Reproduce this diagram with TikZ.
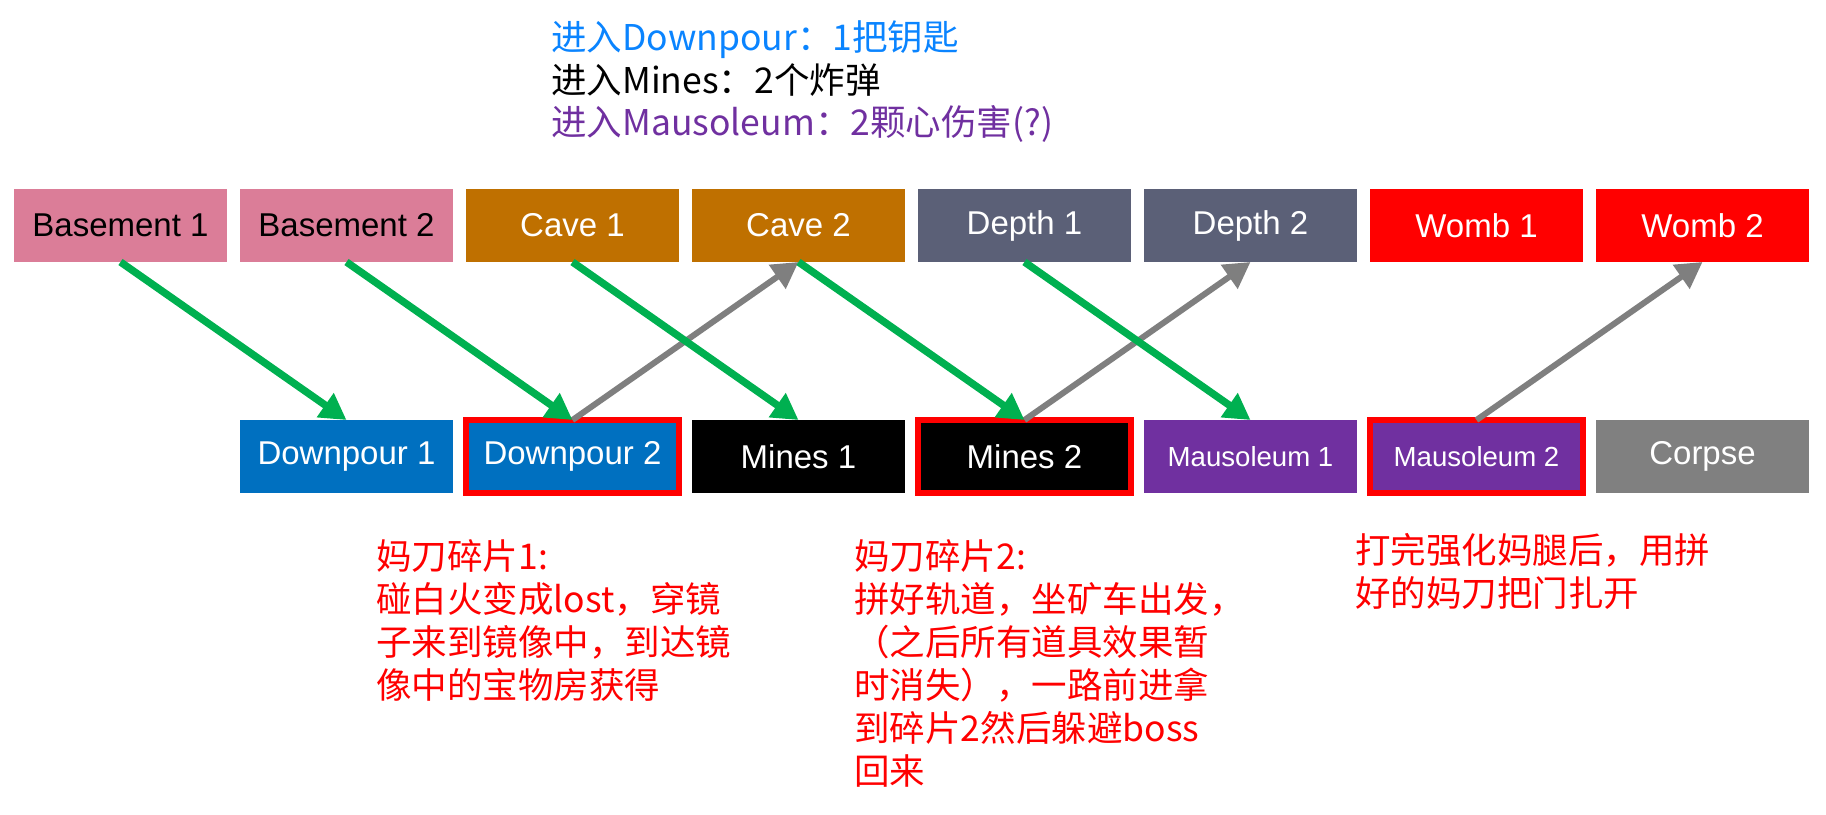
\documentclass[tikz,border=0pt]{standalone}
\usepackage{fontspec}
\newfontfamily\cjk{Noto Sans CJK SC}
\newfontfamily\boxfont{Liberation Sans}
\usetikzlibrary{arrows.meta}
\definecolor{pinkb}{HTML}{DB7D98}
\definecolor{caveb}{HTML}{BF7000}
\definecolor{depthb}{HTML}{5B6077}
\definecolor{wombb}{HTML}{FF0000}
\definecolor{downb}{HTML}{0070C0}
\definecolor{mineb}{HTML}{000000}
\definecolor{mausb}{HTML}{7030A0}
\definecolor{corpb}{HTML}{808080}
\definecolor{arrgreen}{HTML}{00B050}
\definecolor{arrgray}{HTML}{7F7F7F}
\definecolor{txtblue}{HTML}{0A84FF}
\definecolor{txtpurple}{HTML}{7030A0}
\begin{document}
\begin{tikzpicture}[x=0.5pt,y=-0.5pt,
  room/.style={rectangle, minimum width=106.5pt, minimum height=36.5pt,
    inner sep=0pt, outer sep=0pt, text=white,
    font=\boxfont\fontsize{16.5pt}{19pt}\selectfont},
  smallroom/.style={room, font=\boxfont\fontsize{13.8pt}{16pt}\selectfont},
  hl/.style={draw=red, line width=3pt},
  garrow/.style={draw=arrgreen, line width=3.7pt, -{Triangle[length=13pt,width=14pt]}},
  grarrow/.style={draw=arrgray, line width=3pt, -{Triangle[length=13pt,width=14pt]}},
  note/.style={anchor=base west, inner sep=0pt, font=\cjk\fontsize{17.75pt}{21.5pt}\selectfont},
  redtext/.style={note, text=red}
]
\useasboundingbox (0,0) rectangle (1826,814);

% top text
\node[note, text=txtblue] (t1) at (551,50.5) {进入Downpour：1把钥匙};
\node[note, text=black] (t2) at (551,93) {进入Mines：2个炸弹};
\node[note, text=txtpurple] (t3) at (551,135.5) {进入Mausoleum：2颗心伤害(?)};

% top row
\node[room, fill=pinkb, text=black] (b1) at (120.5,225.5) {Basement 1};
\node[room, fill=pinkb, text=black] (b2) at (346.5,225.5) {Basement 2};
\node[room, fill=caveb] (c1) at (572.5,225.5) {Cave 1};
\node[room, fill=caveb] (c2) at (798.5,225.5) {Cave 2};
\node[room, fill=depthb] (dp1) at (1024.5,225.5) {Depth 1};
\node[room, fill=depthb] (dp2) at (1250.5,225.5) {Depth 2};
\node[room, fill=wombb] (w1) at (1476.5,225.5) {Womb 1};
\node[room, fill=wombb] (w2) at (1702.5,225.5) {Womb 2};

% bottom row
\node[room, fill=downb] (d1) at (346.5,456.5) {Downpour 1};
\node[room, fill=downb, hl] (d2) at (572.5,456.5) {Downpour 2};
\node[room, fill=mineb] (m1) at (798.5,456.5) {Mines 1};
\node[room, fill=mineb, hl] (m2) at (1024.5,456.5) {Mines 2};
\node[smallroom, fill=mausb] (ma1) at (1250.5,456.5) {Mausoleum 1};
\node[smallroom, fill=mausb, hl] (ma2) at (1476.5,456.5) {Mausoleum 2};
\node[room, fill=corpb] (co) at (1702.5,456.5) {Corpse};

% arrows
\draw[grarrow] (d2.north) -- (c2.south);
\draw[grarrow] (m2.north) -- (dp2.south);
\draw[grarrow] (ma2.north) -- (w2.south);
\draw[garrow] (b1.south) -- (d1.north);
\draw[garrow] (b2.south) -- (d2.north);
\draw[garrow] (c1.south) -- (m1.north);
\draw[garrow] (c2.south) -- (m2.north);
\draw[garrow] (dp1.south) -- (ma1.north);

% notes
\node[redtext] (n1) at (376,569.5) {\vtop{\hbox{妈刀碎片1:}\hbox{碰白火变成lost，穿镜}\hbox{子来到镜像中，到达镜}\hbox{像中的宝物房获得}}};
\node[redtext] (n2) at (854,569.5) {\vtop{\hbox{妈刀碎片2:}\hbox{拼好轨道，坐矿车出发，}\hbox{（之后所有道具效果暂}\hbox{时消失），一路前进拿}\hbox{到碎片2然后躲避boss}\hbox{回来}}};
\node[redtext] (n3) at (1355,563) {\vtop{\hbox{打完强化妈腿后，用拼}\hbox{好的妈刀把门扎开}}};
\end{tikzpicture}
\end{document}
